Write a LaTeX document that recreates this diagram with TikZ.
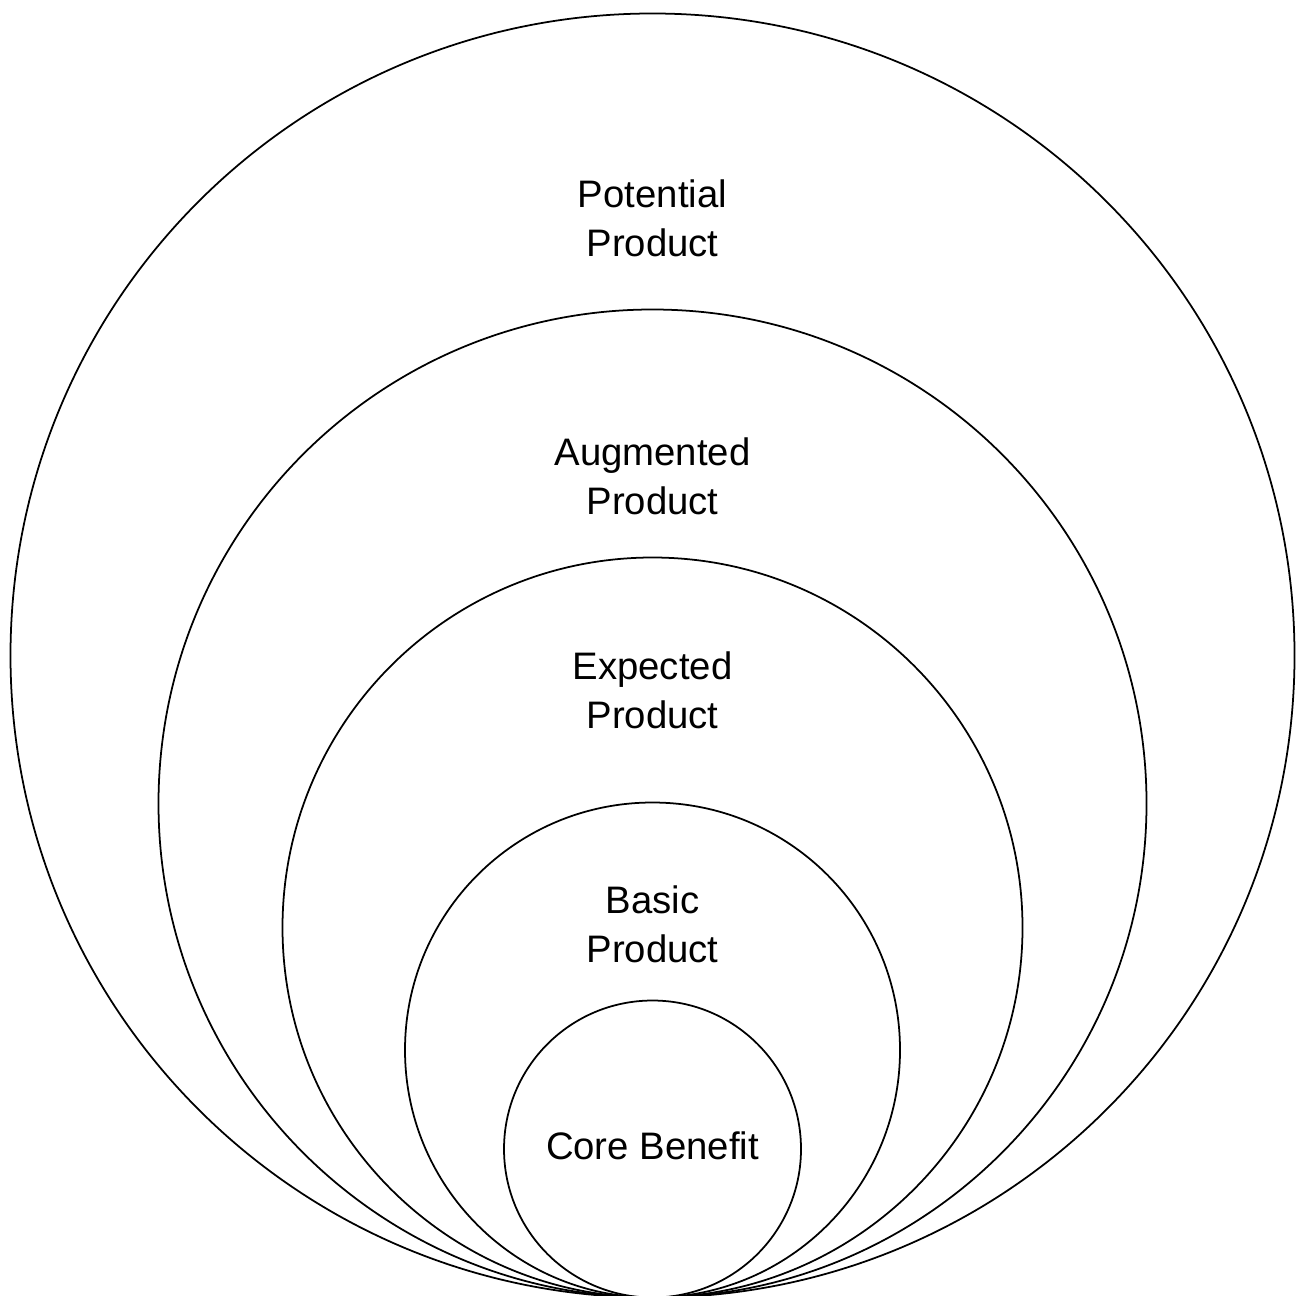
\documentclass[tikz,border=0pt]{standalone}
\usepackage{fontspec}
\setmainfont{Liberation Sans}
\usepackage{tikz}

\tikzset{
	level/.style={circle, draw, line width=0.5pt, inner sep=0pt},
	levellabel/.style={align=center, font=\fontsize{10.9}{13.9}\selectfont}
}

\begin{document}
\begin{tikzpicture}
			\useasboundingbox (0,0) rectangle (12.97,12.95);
			% rings, all touching at the bottom
			\node[level, minimum size=12.84cm] (potential) at (6.525,6.395){};
			\node[level, minimum size=9.88cm] (augmented) at (6.525,4.915){};
			\node[level, minimum size=7.40cm] (expected) at (6.525,3.675){};
			\node[level, minimum size=4.95cm] (basic) at (6.525,2.45){};
			\node[level, minimum size=2.97cm] (core) at (6.525,1.46){};
			% labels
			\node[levellabel] (potentialtext) at (6.525,10.77) {Potential\\Product};
			\node[levellabel] (augmentedtext) at (6.525,8.19) {Augmented\\Product};
			\node[levellabel] (expectedtext) at (6.525,6.05) {Expected\\Product};
			\node[levellabel] (basictext) at (6.525,3.71) {Basic\\Product};
			\node[levellabel] (coretext) at (6.525,1.49) {Core Benefit};
		\end{tikzpicture}
\end{document}
